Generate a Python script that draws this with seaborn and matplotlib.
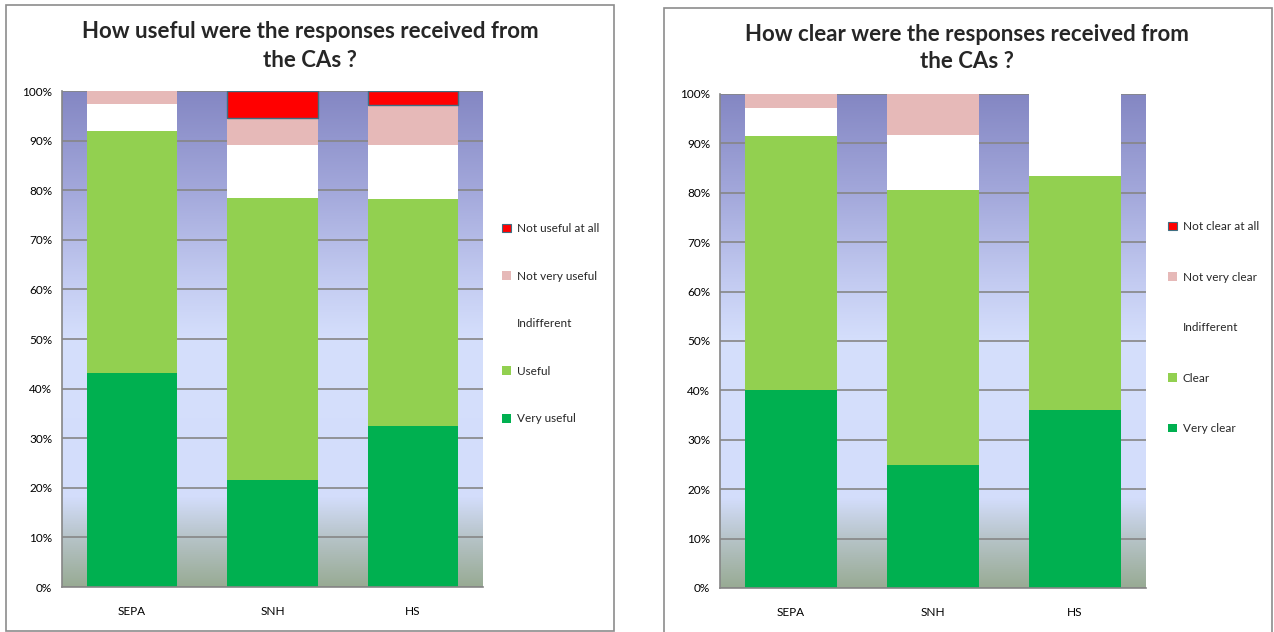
import numpy as np
import pandas as pd
import matplotlib
matplotlib.use("Agg")
import matplotlib.pyplot as plt
from matplotlib.colors import LinearSegmentedColormap
from matplotlib.patches import Patch, Rectangle
import seaborn as sns

# Survey data (percent of respondents)
agencies = ["SEPA", "SNH", "HS"]

useful_levels = ["Very useful", "Useful", "Indifferent", "Not very useful", "Not useful at all"]
very_useful = [43.2, 21.6, 32.4]
useful = [48.7, 56.8, 45.9]
indifferent_u = [5.4, 10.8, 10.8]
not_very_useful = [2.7, 5.4, 8.1]
not_useful_at_all = [0.0, 5.4, 2.7]

clear_levels = ["Very clear", "Clear", "Indifferent", "Not very clear", "Not clear at all"]
very_clear = [40.0, 25.0, 36.1]
clear = [51.4, 55.6, 47.2]
indifferent_c = [5.7, 11.1, 16.7]
not_very_clear = [2.9, 8.3, 0.0]
not_clear_at_all = [0.0, 0.0, 0.0]

colors = ["#00B050", "#92D050", "#FFFFFF", "#E6B9B8", "#FF0000"]

sns.set_style("white")
plt.rcParams["font.family"] = ["Lato", "DejaVu Sans"]

bg_cmap = LinearSegmentedColormap.from_list(
    "excel_bg",
    [(0.0, "#98AB94"), (0.10, "#B7C4C9"), (0.18, "#D3DDFB"), (0.50, "#D5DFFC"),
     (0.62, "#C3CBF1"), (0.80, "#A3A8DB"), (1.0, "#8487C3")])

fig = plt.figure(figsize=(12.74, 6.32), dpi=100)

# chart frames
fig.patches.append(Rectangle((6 / 1274, 1 - 631 / 632), 608 / 1274, 626 / 632,
                             transform=fig.transFigure, fill=False, edgecolor="#8C8C8C", lw=1.2))
fig.patches.append(Rectangle((664 / 1274, -0.01), 608 / 1274, 1 - 8 / 632 + 0.01,
                             transform=fig.transFigure, fill=False, edgecolor="#8C8C8C", lw=1.2))


def draw_chart(rect, series, levels, title, title_xy, title_ls, legend_xy, legend_sp):
    ax = fig.add_axes(rect)
    df = pd.DataFrame({"agency": agencies})
    bottom = np.zeros(len(agencies))
    for vals, lev, col in zip(series, levels, colors):
        edge = "#3F6F82" if col == "#FF0000" else "none"
        lw = 1.0 if col == "#FF0000" else 0
        df[lev] = vals
        sns.barplot(data=df, x="agency", y=lev, color=col, saturation=1, width=0.643,
                    bottom=bottom, edgecolor=edge, linewidth=lw, ax=ax, zorder=2)
        bottom = bottom + np.array(vals)
    # empty segments should not leave an outline
    for p in ax.patches:
        if p.get_height() == 0:
            p.set_linewidth(0)
    grad = np.linspace(0, 1, 256).reshape(-1, 1)
    ax.imshow(grad, cmap=bg_cmap, origin="lower", aspect="auto", extent=(0, 1, 0, 1),
              transform=ax.transAxes, zorder=0)
    ax.set_xlim(-0.5, 2.5)
    ax.set_ylim(0, 100)
    ax.set_yticks(np.arange(0, 101, 10))
    ax.set_yticklabels([f"{v}%" for v in range(0, 101, 10)])
    ax.yaxis.grid(True, color="#868686", lw=1.2, zorder=1)
    ax.set_axisbelow(True)
    ax.set_xlabel("")
    ax.set_ylabel("")
    ax.tick_params(axis="y", length=0, pad=7, labelsize=8.5, colors="#000000")
    ax.tick_params(axis="x", length=0, pad=14, labelsize=8.5, colors="#000000")
    for s in ["top", "right"]:
        ax.spines[s].set_visible(False)
    for s in ["left", "bottom"]:
        ax.spines[s].set_color("#868686")
        ax.spines[s].set_linewidth(1.2)
    handles = [Patch(facecolor=c, edgecolor=("#3F6F82" if c == "#FF0000" else "none"), lw=0.8)
               for c in colors][::-1]
    ax.legend(handles, levels[::-1], loc="upper left", bbox_to_anchor=legend_xy,
              bbox_transform=fig.transFigure, frameon=False, fontsize=8.5,
              handlelength=0.75, handleheight=0.75, handletextpad=0.5,
              labelspacing=legend_sp, borderpad=0, borderaxespad=0)
    fig.text(title_xy[0], title_xy[1], title, ha="center", va="center",
             fontsize=16, fontweight="bold", linespacing=title_ls)
    return ax


draw_chart([62 / 1274, 1 - 587 / 632, 421 / 1274, 496 / 632],
           [very_useful, useful, indifferent_u, not_very_useful, not_useful_at_all],
           useful_levels,
           "How useful were the responses received from\nthe CAs ?",
           (310 / 1274, 1 - 46 / 632), 1.45, (502 / 1274, 1 - 223 / 632), 3.1)

draw_chart([720 / 1274, 1 - 588 / 632, 426 / 1274, 494 / 632],
           [very_clear, clear, indifferent_c, not_very_clear, not_clear_at_all],
           clear_levels,
           "How clear were the responses received from\nthe CAs ?",
           (967 / 1274, 1 - 48 / 632), 1.3, (1168 / 1274, 1 - 221 / 632), 3.35)

fig.savefig("out.png", dpi=100)
